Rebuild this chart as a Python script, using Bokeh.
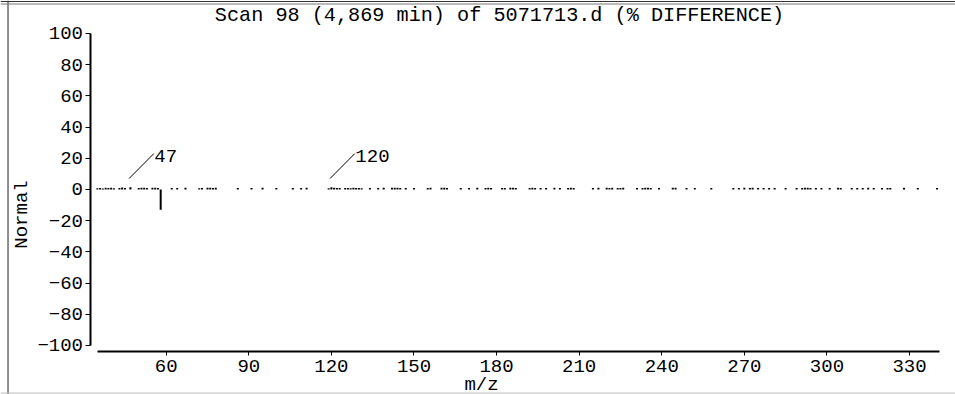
import math
from bokeh.plotting import figure
from bokeh.models import Range1d, Label, LinearAxis, FixedTicker, ColumnDataSource, Span
from bokeh.core.properties import value
from bokeh.embed import file_html
from bokeh.resources import INLINE

# ---------------- data ----------------
TITLE = "Scan 98 (4,869 min) of 5071713.d (% DIFFERENCE)"
X_LABEL = "m/z"
Y_LABEL = "Normal"

mz = [35, 36, 37, 38, 39, 40, 41, 43, 44, 45, 47,
      50, 51, 52, 53, 55, 56, 57, 58,
      62, 64, 67, 72, 73, 75, 76, 77, 78,
      86, 91, 95, 100, 106, 109, 111,
      119, 120, 121, 122, 123, 125, 126, 127, 128, 129, 130, 131, 134, 137, 139,
      142, 143, 144, 145, 147, 150,
      155, 156, 160, 161, 162, 167, 170, 173, 176, 177, 178, 182, 183, 185, 186,
      187, 192, 193, 194, 196, 198, 201, 203, 206, 207, 208, 215, 217,
      220, 221, 222, 224, 225, 226, 231, 233, 234, 235, 236, 239, 244, 245, 249,
      252, 258, 266, 268, 270, 272, 273, 275, 277, 279, 281,
      285, 289, 291, 292, 293, 294, 296, 298, 301, 304, 305, 309, 311, 313, 315,
      317, 320, 322, 323, 328, 333, 340]

diff = [0.8, 1.0, 0.7, 1.2, 0.9, 1.1, 0.8, 1.0, 1.3, 0.9, 1.4,
        1.0, 1.2, 1.1, 1.0, 1.2, 1.1, 1.0, -13.0,
        0.9, 1.0, 1.1, 0.8, 1.0, 1.2, 1.1, 1.0, 1.2,
        1.0, 0.9, 1.1, 1.0, 0.9, 1.0, 1.1,
        0.8, 1.5, 1.2, 0.9, 1.0, 0.9, 1.0, 0.8, 1.1, 0.9, 1.0, 0.8, 1.0, 0.9, 1.1,
        1.2, 1.1, 1.2, 1.0, 0.9, 1.0,
        1.0, 1.1, 1.2, 1.1, 1.0, 0.9, 1.0, 1.1, 1.0, 1.2, 1.0, 1.0, 0.9, 1.1, 1.2,
        1.0, 1.0, 1.1, 0.9, 1.0, 1.0, 1.1, 1.0, 0.9, 1.2, 1.0, 1.0, 1.1,
        1.2, 1.0, 1.1, 0.9, 1.0, 1.1, 1.0, 0.9, 1.2, 1.1, 1.0, 1.0, 1.1, 1.2, 1.0,
        1.0, 1.0, 1.0, 0.9, 1.1, 1.0, 1.2, 1.0, 0.9, 1.0, 1.0,
        1.0, 1.0, 0.9, 1.1, 1.2, 1.0, 1.0, 0.9, 1.0, 1.1, 1.0, 1.0, 0.9, 1.0, 1.1,
        1.0, 1.0, 1.0, 0.9, 1.2, 1.0, 1.0]

label_mz = [47, 120]
label_text = ["47", "120"]

x_ticks = [60, 90, 120, 150, 180, 210, 240, 270, 300, 330]
y_ticks = [-100, -80, -60, -40, -20, 0, 20, 40, 60, 80, 100]

assert len(mz) == len(diff)

# ---------------- style / layout ----------------
FONT = "Liberation Mono"
FS = "19px"
W, H = 955, 394
# the frame covers the whole canvas; axes are drawn at fixed locations
X_START, X_END = -0.19, 346.70
Y_START, Y_END = -131.41, 121.15
YAXIS_AT = 32.68       # x position of the y axis line
XAXIS_AT = -103.85     # y position of the x axis line
LEAD_DX0, LEAD_DX1 = -0.5, 8.5
LEAD_Y0, LEAD_Y1 = 7.0, 23.0
TEXT_Y = 21.5

p = figure(width=W, height=H, output_backend="svg", toolbar_location=None,
           x_range=Range1d(X_START, X_END), y_range=Range1d(Y_START, Y_END),
           min_border_left=0, min_border_right=0, min_border_top=0,
           min_border_bottom=0, x_axis_type=None, y_axis_type=None)
p.title.visible = False
p.outline_line_color = None
p.background_fill_color = "white"
p.border_fill_color = "white"

# window frame lines of the original screenshot
p.add_layout(Span(location=2.54, dimension="height", line_color="#222", line_width=1))
p.add_layout(Span(location=120.5, dimension="width", line_color="#333", line_width=1))
p.add_layout(Span(location=118.9, dimension="width", line_color="#777", line_width=1))
p.add_layout(Span(location=-130.5, dimension="width", line_color="#bbb", line_width=1))

xa = LinearAxis(ticker=FixedTicker(ticks=x_ticks), bounds=(35, 340.9),
                fixed_location=XAXIS_AT)
ya = LinearAxis(ticker=FixedTicker(ticks=y_ticks), bounds=(-100, 100),
                fixed_location=YAXIS_AT)
for ax in (xa, ya):
    ax.axis_line_width = 2
    ax.axis_line_color = "black"
    ax.major_tick_in = 0
    ax.major_tick_line_width = 1
    ax.major_tick_line_color = "black"
    ax.minor_tick_line_color = None
    ax.major_label_text_font = FONT
    ax.major_label_text_font_size = FS
    ax.major_label_text_color = "black"
xa.major_tick_out = 4
xa.major_label_standoff = 4
ya.major_tick_out = 5
ya.major_label_standoff = 3
p.add_layout(xa, "below")
p.add_layout(ya, "left")

src = ColumnDataSource(dict(mz=mz, diff=diff))
p.segment(x0="mz", y0=0, x1="mz", y1="diff", source=src,
          line_color="black", line_width=2, line_cap="butt")

lsrc = ColumnDataSource(dict(
    x0=[m + LEAD_DX0 for m in label_mz],
    x1=[m + LEAD_DX1 for m in label_mz],
    tx=[m + LEAD_DX1 + 0.2 for m in label_mz],
    text=label_text))
p.segment(x0="x0", y0=LEAD_Y0, x1="x1", y1=LEAD_Y1, source=lsrc,
          line_color="black", line_width=1)
p.text(x="tx", y=TEXT_Y, text="text", source=lsrc, text_font=value(FONT),
       text_font_size=FS, text_align="left", text_baseline="middle",
       text_color="black")

# Labels in screen units (frame == whole canvas, origin bottom-left)
p.add_layout(Label(x=499, y=379, x_units="screen", y_units="screen", text=TITLE,
                   text_font=FONT, text_font_size="20.2px", text_align="center",
                   text_baseline="alphabetic", text_color="black"))
p.add_layout(Label(x=21, y=180, x_units="screen", y_units="screen", text=Y_LABEL,
                   angle=math.pi / 2, text_font=FONT, text_font_size=FS,
                   text_align="center", text_baseline="middle", text_color="black"))
p.add_layout(Label(x=481, y=10, x_units="screen", y_units="screen", text=X_LABEL,
                   text_font=FONT, text_font_size=FS, text_align="center",
                   text_baseline="alphabetic", text_color="black"))

open("out.html", "w").write(file_html(p, INLINE))
